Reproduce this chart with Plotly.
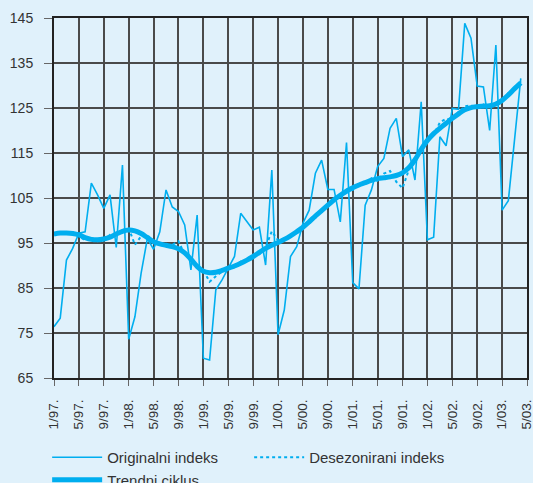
import plotly.graph_objects as go

# Monthly data, Jan 1997 .. Apr 2003 (index 0..75)
original = [76.4, 78.3, 91.2, 93.8, 97.2, 97.5, 108.3, 105.7, 102.7, 105.7,
            94.0, 112.3, 73.6, 78.6, 88.3, 96.0, 93.6, 97.5, 106.8, 103.0,
            102.0, 99.0, 89.0, 101.2, 69.4, 69.0, 84.6, 86.8, 89.4, 92.0,
            101.6, 99.7, 97.9, 98.5, 90.1, 111.2, 74.6, 80.1, 92.0, 94.2,
            99.4, 102.3, 110.5, 113.4, 106.9, 106.9, 99.7, 117.3, 86.2, 84.8,
            103.4, 106.8, 112.0, 113.8, 120.5, 122.7, 114.2, 115.7, 109.0, 126.4,
            95.7, 96.3, 118.6, 116.6, 124.9, 124.7, 143.8, 140.5, 129.9, 129.7,
            120.0, 139.0, 102.3, 104.4, 118.0, 131.6]

deseasonal = [96.8, 97.3, 97.0, 97.4, 96.5, 95.6, 96.2, 95.4, 95.6, 96.8,
              96.6, 97.9, 98.3, 94.6, 96.5, 96.8, 95.0, 95.2, 94.2, 94.6,
              95.4, 92.4, 91.8, 89.4, 88.9, 86.4, 87.6, 88.7, 89.7, 89.6,
              90.9, 90.8, 92.4, 92.5, 94.1, 97.6, 95.6, 96.0, 96.4, 97.9,
              98.2, 100.1, 100.6, 102.5, 103.1, 105.0, 105.3, 106.9, 106.8, 108.3,
              108.1, 109.4, 108.8, 110.4, 111.0, 108.6, 107.2, 111.2, 113.8, 115.5,
              118.2, 119.0, 121.8, 122.6, 122.4, 124.1, 125.4, 125.6, 125.0, 125.8,
              125.2, 126.2, 126.5, 128.4, 129.0, 130.9]

trend = [97.0, 97.2, 97.2, 97.1, 96.8, 96.2, 95.8, 95.7, 95.9, 96.3,
         97.0, 97.6, 97.9, 97.7, 97.1, 96.2, 95.3, 94.8, 94.5, 94.2,
         93.7, 92.8, 91.4, 89.8, 88.7, 88.4, 88.5, 88.9, 89.4, 89.9,
         90.5, 91.2, 92.0, 92.9, 93.8, 94.5, 95.1, 95.8, 96.6, 97.5,
         98.5, 99.7, 101.0, 102.2, 103.4, 104.6, 105.6, 106.5, 107.3, 107.9,
         108.4, 108.9, 109.3, 109.5, 109.7, 110.0, 110.6, 111.7, 113.5, 115.8,
         117.8, 119.3, 120.5, 121.6, 122.7, 123.7, 124.6, 125.1, 125.3, 125.4,
         125.5, 125.9, 126.7, 127.9, 129.3, 130.6]

tick_labels = ["1/97.", "5/97.", "9/97.", "1/98.", "5/98.", "9/98.", "1/99.",
               "5/99.", "9/99.", "1/00.", "5/00.", "9/00.", "1/01.", "5/01.",
               "9/01.", "1/02.", "5/02.", "9/02.", "1/03.", "5/03."]
y_ticks = [65, 75, 85, 95, 105, 115, 125, 135, 145]

months = list(range(len(original)))
tick_pos = [4 * k for k in range(len(tick_labels))]

COL = "#00AEEF"
BG = "#E0F1FB"

fig = go.Figure()
fig.add_trace(go.Scatter(x=months, y=original, mode="lines", name="Originalni indeks",
                         line=dict(color=COL, width=1.6)))
fig.add_trace(go.Scatter(x=months, y=deseasonal, mode="lines", name="Desezonirani indeks",
                         line=dict(color=COL, width=2, dash="dot")))
fig.add_trace(go.Scatter(x=months, y=trend, mode="lines", name="Trendni ciklus",
                         line=dict(color=COL, width=5, shape="spline")))

fig.update_layout(
    width=533, height=483,
    margin=dict(l=54, r=6, t=18, b=105, autoexpand=False),
    paper_bgcolor=BG, plot_bgcolor=BG,
    font=dict(family="Liberation Sans, Arial, sans-serif", color="#333333"),
    showlegend=True,
    legend=dict(orientation="h", x=-0.0145, xanchor="left", y=-0.175, yanchor="top",
                entrywidth=137, entrywidthmode="pixels",
                font=dict(size=15, color="#333333"),
                bgcolor="rgba(0,0,0,0)", itemwidth=50),
)
fig.update_xaxes(range=[0, 76], tickvals=tick_pos, ticktext=tick_labels,
                 tickangle=-90, tickfont=dict(size=13.5, color="#333333"),
                 automargin=False, ticklabelstandoff=8, ticklabeloverflow="allow",
                 showgrid=True, gridcolor="#4a4a4a", gridwidth=1.5,
                 showline=True, linecolor="#222222", linewidth=2, mirror=True,
                 ticks="outside", ticklen=6, tickcolor="#666666", zeroline=False)
fig.update_yaxes(range=[65, 145], tickvals=y_ticks,
                 tickfont=dict(size=14, color="#333333"),
                 automargin=False, ticklabelstandoff=8, ticklabeloverflow="allow",
                 showgrid=True, gridcolor="#4a4a4a", gridwidth=1.5,
                 showline=True, linecolor="#222222", linewidth=2, mirror=True,
                 ticks="outside", ticklen=8, tickcolor="#666666", zeroline=False)

fig.write_html("out.html", config={"displayModeBar": False},
               post_script="document.body.style.margin='0';document.body.style.overflow='hidden';document.body.style.background='" + BG + "';")
